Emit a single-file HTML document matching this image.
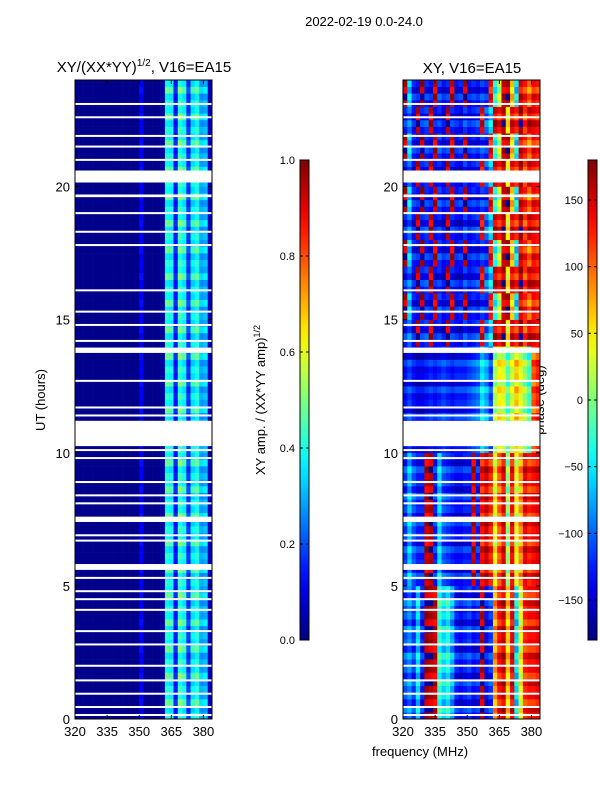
<!DOCTYPE html>
<html><head><meta charset="utf-8"><style>
body{margin:0;background:#fff;width:600px;height:800px;overflow:hidden}
svg text{font-family:"Liberation Sans","DejaVu Sans",sans-serif;fill:#000}
</style></head><body>
<svg id="fig" width="600" height="800" xmlns="http://www.w3.org/2000/svg">
<defs id="defs"></defs>
<text x="364" y="26" font-size="13" text-anchor="middle">2022-02-19 0.0-24.0</text>
<text x="144" y="72" font-size="15" text-anchor="middle">XY/(XX*YY)<tspan font-size="10" dy="-6">1/2</tspan><tspan dy="6">, V16=EA15</tspan></text>
<text x="472" y="73" font-size="15" text-anchor="middle">XY, V16=EA15</text>
<text x="0" y="0" font-size="13" text-anchor="middle" transform="translate(45,400) rotate(-90)">UT (hours)</text>
<text x="420" y="756" font-size="13" text-anchor="middle">frequency (MHz)</text>
<text x="0" y="0" font-size="13" text-anchor="middle" transform="translate(265,400) rotate(-90)">XY amp. / (XX*YY amp)<tspan font-size="9" dy="-5">1/2</tspan></text>
<text x="0" y="0" font-size="13" text-anchor="middle" transform="translate(544,400) rotate(-90)">phase (deg)</text>
<g id="left"></g>
<g id="right"></g>
<g id="axes"></g>
</svg>
<script>
const freqStart = 320, chanWidth = 2;
const ampProfile = [0.01,0.01,0.01,0.01,0.01,0.01,0.01,0.01,0.01,0.01,0.01,0.01,0.01,0.01,0.01,0.12,0.01,0.01,0.01,0.01,0.03,0.42,0.4,0.15,0.45,0.4,0.18,0.38,0.42,0.3,0.32,0.05];
const quarterMod = [1,0.85,1.15,0.9];
const phaseA = [-110,-90,-120,-60,-130,170,160,150,-30,-60,-40,-80,-130,-140,-130,-120,-140,-130,160,-140,-120,80,130,150,60,140,-60,40,120,130,130,140];
const phaseB = [-120,-70,-110,-130,-130,150,160,-130,-60,-110,-120,-130,-140,-140,-130,-130,150,-130,130,150,120,40,100,140,0,130,30,80,140,120,130,140];
const phaseC = [-140,-120,-140,-150,-150,-140,-130,-140,-130,-120,-130,-140,-130,-130,-130,-120,-110,-100,-60,-80,-120,10,40,30,-20,20,60,30,0,-30,100,120];
const phaseD = [-130,-100,-140,160,-130,-120,150,-140,-130,-150,160,-130,-140,-150,-120,-140,-130,-120,140,-100,-60,150,130,160,40,140,120,170,110,150,140,130];
const phaseE = [160,-60,-130,-140,170,-130,-140,150,-120,-140,-130,150,-140,-130,160,-140,-130,-140,-120,-130,130,-40,20,150,160,60,-60,140,120,90,130,120];
const hourProfile = ['A','A','A','A','A','B','B','B','B','B','C','C','C','C','D','E','D','E','D','E','D','E','D','E'];
const quarterPhaseOffset = [0,25,-20,10];
const flagBlocks = [[20.15,20.6],[10.25,11.2],[13.75,13.95],[5.6,5.82],[7.4,7.6],[19.6,19.7]];
const flagLines = [0.15,0.45,0.95,1.45,2.0,2.8,3.3,4.1,4.5,4.8,5.3,6.7,6.9,8.1,8.4,8.9,9.8,10.1,11.4,11.7,12.7,14.2,14.8,15.3,16.1,17.8,18.3,19.0,21.0,21.5,21.9,22.6,23.1];
const xTicks = [320,335,350,365,380];
const yTicks = [0,5,10,15,20];
const ampTicks = [0.0,0.2,0.4,0.6,0.8,1.0];
const phaseTicks = [-150,-100,-50,0,50,100,150];

const NS='http://www.w3.org/2000/svg';
const Y0=719, YT=80, F0=320, F1=384;
const yS = h => Y0 - h*(Y0-YT)/24;
function xS(f, left){ return left + (f-F0)*137/(F1-F0); }
function jet(t){
  t=Math.max(0,Math.min(1,t));
  const c=(v)=>Math.round(255*Math.max(0,Math.min(1,v)));
  const r=c(1.5-Math.abs(4*t-3)), g=c(1.5-Math.abs(4*t-2)), b=c(1.5-Math.abs(4*t-1));
  return `rgb(${r},${g},${b})`;
}
function mk(tag, attrs, parent){ const e=document.createElementNS(NS,tag); for(const k in attrs) e.setAttribute(k,attrs[k]); parent.appendChild(e); return e; }
const profiles={A:phaseA,B:phaseB,C:phaseC,D:phaseD,E:phaseE};
const L=document.getElementById('left'), R=document.getElementById('right'), AX=document.getElementById('axes');
for(let q=0;q<96;q++){
  const h0=q/4, h1=(q+1)/4, qi=q%4;
  const prof=profiles[hourProfile[Math.floor(h0)]];
  for(let i=0;i<ampProfile.length;i++){
    const f0=freqStart+i*chanWidth, f1=f0+chanWidth;
    const a=ampProfile[i]*(ampProfile[i]>0.1?quarterMod[qi]:1);
    const r1=mk('rect',{x:xS(f0,75),y:yS(h1),width:xS(f1,75)-xS(f0,75)+0.3,height:yS(h0)-yS(h1)+0.3,fill:jet(a)},L);
    
    
    let p=prof[i]+quarterPhaseOffset[qi]; if(p>180)p-=360; if(p<-180)p+=360;
    const r2=mk('rect',{x:xS(f0,403),y:yS(h1),width:xS(f1,403)-xS(f0,403)+0.3,height:yS(h0)-yS(h1)+0.3,fill:jet((p+180)/360)},R);
    
    
  }
}
for(const left of [75,403]){
  for(const b of flagBlocks){
    const e=mk('rect',{x:left,y:yS(b[1]),width:137,height:yS(b[0])-yS(b[1]),fill:'#fff'},AX);
    
    
  }
  for(const h of flagLines){
    const e=mk('rect',{x:left,y:yS(h)-1,width:137,height:2,fill:'#fff'},AX);
    
    
  }
  const fr=mk('rect',{x:left,y:YT,width:137,height:Y0-YT,fill:'none',stroke:'#000','stroke-width':1},AX);
  
  
  for(const t of xTicks){
    const x=xS(t,left);
    mk('line',{x1:x,x2:x,y1:Y0,y2:Y0-4,stroke:'#000'},AX);
    mk('line',{x1:x,x2:x,y1:YT,y2:YT+4,stroke:'#000'},AX);
    const tx=mk('text',{x:x,y:736,'font-size':13,'text-anchor':'middle'},AX); tx.textContent=t;
    
    
  }
  for(const t of yTicks){
    const y=yS(t);
    mk('line',{x1:left,x2:left+4,y1:y,y2:y,stroke:'#000'},AX);
    mk('line',{x1:left+137,x2:left+133,y1:y,y2:y,stroke:'#000'},AX);
    const tx=mk('text',{x:left-5,y:y+5,'font-size':13,'text-anchor':'end'},AX); tx.textContent=t;
    
    
  }
}
const defs=document.getElementById('defs');
const g=mk('linearGradient',{id:'jetg',x1:0,y1:1,x2:0,y2:0},defs);
for(let k=0;k<=20;k++) mk('stop',{offset:k/20,'stop-color':jet(k/20)},g);
function cbar(x,ticks,lo,hi,name){
  const r=mk('rect',{x:x,y:160,width:9,height:480,fill:'url(#jetg)',stroke:'#000','stroke-width':1},AX);
  
  
  for(const t of ticks){
    const y=640-(t-lo)/(hi-lo)*480;
    mk('line',{x1:x,x2:x+3,y1:y,y2:y,stroke:'#000'},AX);
    mk('line',{x1:x+9,x2:x+6,y1:y,y2:y,stroke:'#000'},AX);
    const tx=mk('text',{x:x-5,y:y+4,'font-size':11,'text-anchor':'end'},AX);
    tx.textContent = (lo===0? t.toFixed(1) : (t<0?'\u2212'+(-t):String(t)));
    
    
  }
}
cbar(300,ampTicks,0,1,'amp-colorbar');
cbar(588,phaseTicks,-180,180,'phase-colorbar');
</script>
</body></html>
